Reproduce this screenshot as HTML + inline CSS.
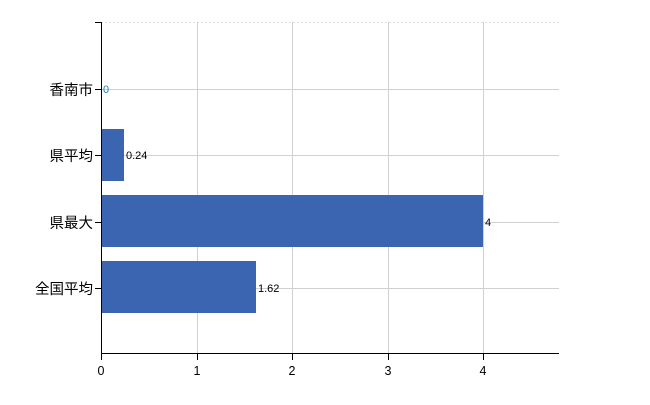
<!DOCTYPE html>
<html><head><meta charset="utf-8"><style>body{margin:0;background:#fff}</style></head><body>
<svg width="650" height="400" xmlns="http://www.w3.org/2000/svg" font-family="'Liberation Sans','Noto Sans CJK JP',sans-serif">
<rect width="650" height="400" fill="#fff"/>
<g stroke="#d0d0d0" stroke-width="1">
<line x1="101" y1="22.5" x2="559" y2="22.5" stroke-dasharray="2,2" stroke="#e0e0e0"/>
<line x1="101" y1="89.5" x2="559" y2="89.5"/>
<line x1="101" y1="155.5" x2="559" y2="155.5"/>
<line x1="101" y1="222.5" x2="559" y2="222.5"/>
<line x1="101" y1="288.5" x2="559" y2="288.5"/>
<line x1="197.5" y1="22" x2="197.5" y2="354"/>
<line x1="292.5" y1="22" x2="292.5" y2="354"/>
<line x1="388.5" y1="22" x2="388.5" y2="354"/>
<line x1="483.5" y1="22" x2="483.5" y2="354"/>
</g>
<g fill="#3b65b0">
<rect x="101" y="129" width="23" height="52"/>
<rect x="101" y="195" width="382" height="52"/>
<rect x="101" y="261" width="155" height="52"/>
</g>
<g stroke="#000" stroke-width="1">
<line x1="101.5" y1="22" x2="101.5" y2="354"/>
<line x1="95" y1="22.5" x2="101" y2="22.5"/>
<line x1="95" y1="89.5" x2="101" y2="89.5"/>
<line x1="95" y1="155.5" x2="101" y2="155.5"/>
<line x1="95" y1="222.5" x2="101" y2="222.5"/>
<line x1="95" y1="288.5" x2="101" y2="288.5"/>
<line x1="101" y1="353.5" x2="559" y2="353.5"/>
<line x1="101.5" y1="354" x2="101.5" y2="360"/>
<line x1="197.5" y1="354" x2="197.5" y2="360"/>
<line x1="292.5" y1="354" x2="292.5" y2="360"/>
<line x1="388.5" y1="354" x2="388.5" y2="360"/>
<line x1="483.5" y1="354" x2="483.5" y2="360"/>
</g>
<g font-size="14.5" fill="#000" text-anchor="end">
<text x="93" y="95">香南市</text>
<text x="93" y="161">県平均</text>
<text x="93" y="228">県最大</text>
<text x="93" y="294">全国平均</text>
</g>
<g font-size="12.5" fill="#000" text-anchor="middle">
<text x="101" y="375">0</text>
<text x="197" y="375">1</text>
<text x="292" y="375">2</text>
<text x="388" y="375">3</text>
<text x="483" y="375">4</text>
</g>
<g font-size="11" fill="#000">
<text x="103" y="93" fill="#1a7fc0">0</text>
<text x="126" y="159">0.24</text>
<text x="485" y="226">4</text>
<text x="258" y="292">1.62</text>
</g>
</svg>
</body></html>
